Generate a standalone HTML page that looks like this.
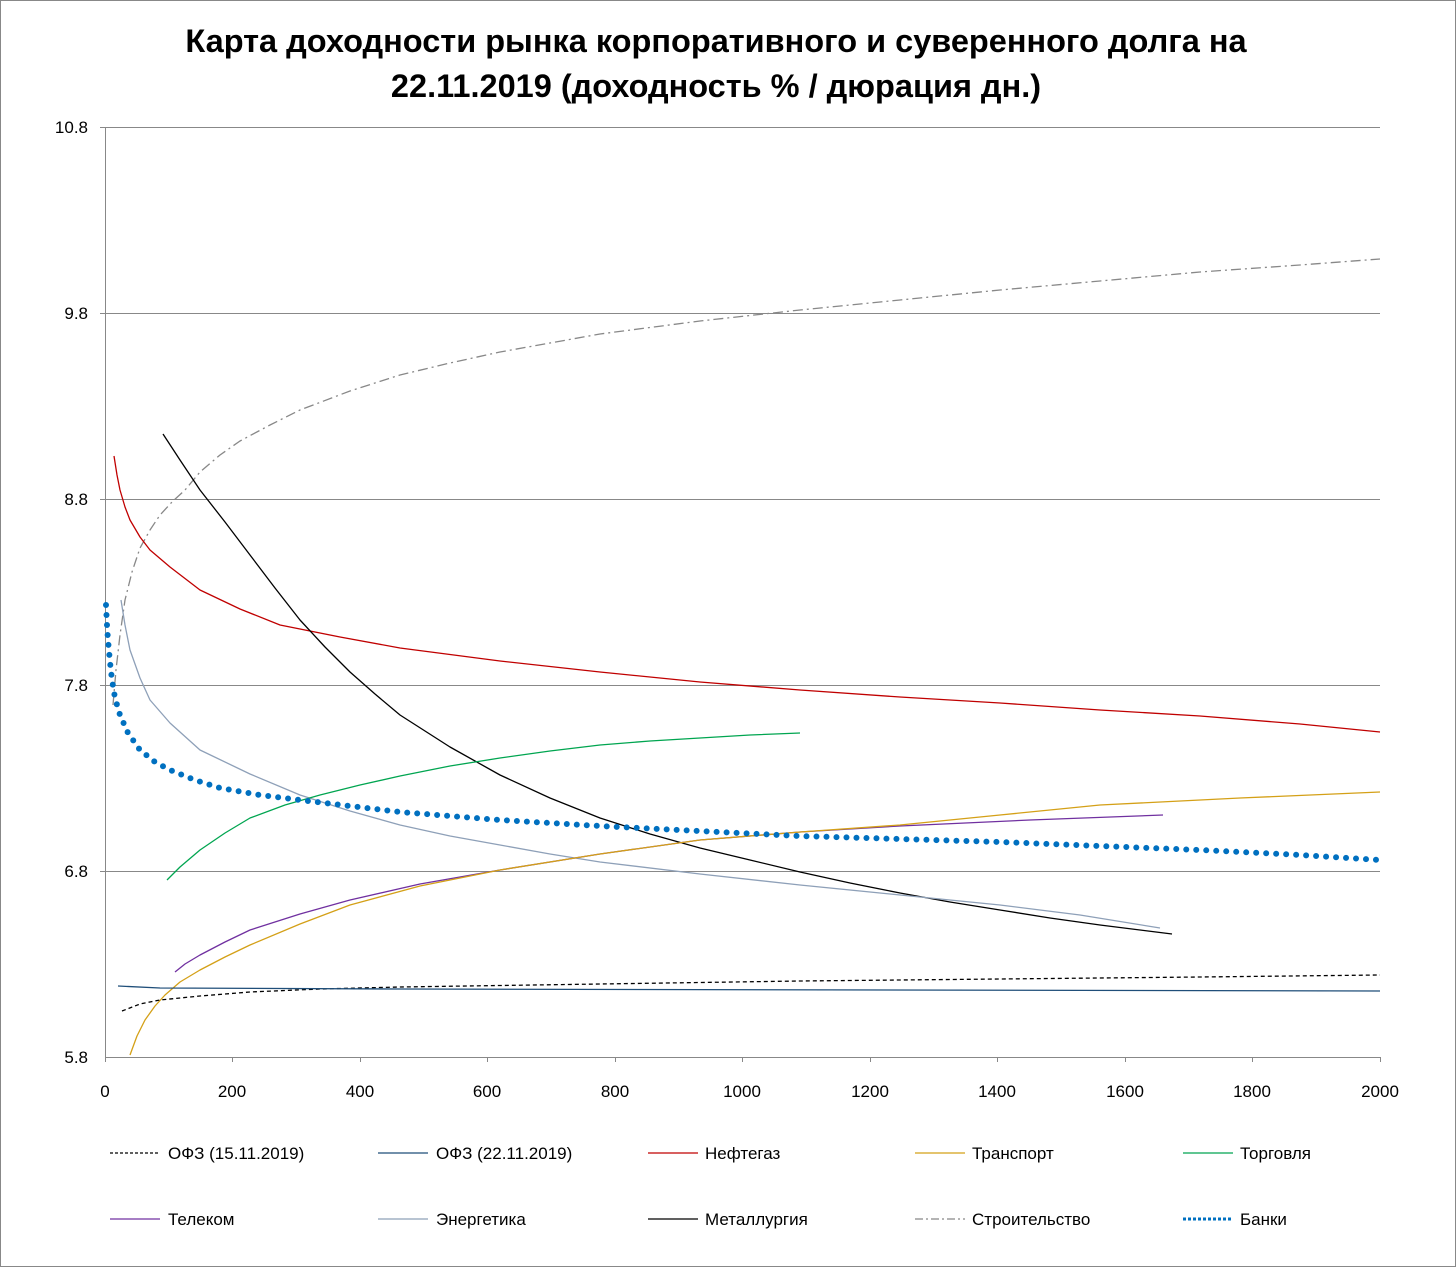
<!DOCTYPE html>
<html><head><meta charset="utf-8"><style>
body{margin:0;background:#fff}
svg{display:block;font-family:"Liberation Sans",sans-serif}
</style></head><body>
<svg width="1456" height="1267" viewBox="0 0 1456 1267">
<rect x="0.5" y="0.5" width="1455" height="1266" fill="#fff" stroke="#888"/>
<text x="716" y="52" text-anchor="middle" font-size="32.5" font-weight="bold">Карта доходности рынка корпоративного и суверенного долга на</text>
<text x="716" y="97" text-anchor="middle" font-size="32.5" font-weight="bold">22.11.2019 (доходность % / дюрация дн.)</text>
<g stroke="#888" stroke-width="1">
<line x1="105" y1="127.5" x2="1380" y2="127.5"/>
<line x1="105" y1="313.5" x2="1380" y2="313.5"/>
<line x1="105" y1="499.5" x2="1380" y2="499.5"/>
<line x1="105" y1="685.5" x2="1380" y2="685.5"/>
<line x1="105" y1="871.5" x2="1380" y2="871.5"/>
<line x1="105" y1="1057.5" x2="1380" y2="1057.5"/>
<line x1="105.5" y1="127" x2="105.5" y2="1062"/>
<line x1="100" y1="127.5" x2="105" y2="127.5"/><line x1="100" y1="313.5" x2="105" y2="313.5"/><line x1="100" y1="499.5" x2="105" y2="499.5"/><line x1="100" y1="685.5" x2="105" y2="685.5"/><line x1="100" y1="871.5" x2="105" y2="871.5"/>
<line x1="232.5" y1="1057" x2="232.5" y2="1062"/><line x1="360.5" y1="1057" x2="360.5" y2="1062"/><line x1="487.5" y1="1057" x2="487.5" y2="1062"/><line x1="615.5" y1="1057" x2="615.5" y2="1062"/><line x1="742.5" y1="1057" x2="742.5" y2="1062"/><line x1="870.5" y1="1057" x2="870.5" y2="1062"/><line x1="997.5" y1="1057" x2="997.5" y2="1062"/><line x1="1125.5" y1="1057" x2="1125.5" y2="1062"/><line x1="1252.5" y1="1057" x2="1252.5" y2="1062"/><line x1="1380.5" y1="1057" x2="1380.5" y2="1062"/>
</g>
<g font-size="17" text-anchor="end">
<text x="88" y="133">10.8</text><text x="88" y="319">9.8</text><text x="88" y="505">8.8</text><text x="88" y="691">7.8</text><text x="88" y="877">6.8</text><text x="88" y="1063">5.8</text>
</g>
<g font-size="17" text-anchor="middle">
<text x="105" y="1097">0</text><text x="232" y="1097">200</text><text x="360" y="1097">400</text><text x="487" y="1097">600</text><text x="615" y="1097">800</text><text x="742" y="1097">1000</text><text x="870" y="1097">1200</text><text x="997" y="1097">1400</text><text x="1125" y="1097">1600</text><text x="1252" y="1097">1800</text><text x="1380" y="1097">2000</text>
</g>
<g fill="none" stroke-width="1.3" stroke-linejoin="round">
<polyline stroke="#888" stroke-dasharray="10,4,2,4" points="113,705 116,670 120,635 125,600 132,572 140,548 150,530 160,515 172,502 185,490 200,472 220,455 240,441 270,425 300,410 350,391 400,375 450,363 500,352 550,343 600,334 700,321 800,310 900,300 1000,290 1100,281 1200,272 1300,265 1380,259"/>
<polyline stroke="#c00000" points="114,456 117,475 120,490 125,507 130,520 140,537 150,550 170,567 200,590 240,609 280,625 340,637 400,648 500,661 600,672 700,682 800,690 900,697 1000,703 1100,710 1200,716 1300,724 1380,732"/>
<polyline stroke="#000" points="163,434 180,460 200,490 225,522 250,555 275,588 300,620 325,647 350,672 375,694 400,715 450,747 500,775 550,798 600,818 650,834 700,848 750,860 800,872 850,883 900,893 950,902 1000,910 1050,918 1100,925 1172,934"/>
<polyline stroke="#8ea0b8" points="121,600 125,625 130,650 140,678 150,700 170,723 200,750 250,774 300,795 350,811 400,825 450,836 500,845 550,854 600,862 700,874 800,885 900,895 1000,905 1080,915 1160,928"/>
<polyline stroke="#00a550" points="167,880 180,867 200,850 225,833 250,818 285,805 320,795 360,785 400,776 450,766 500,758 550,751 600,745 650,741 700,738 750,735 800,733"/>
<polyline stroke="#7030a0" points="175,972 185,964 200,955 225,942 250,930 300,914 350,900 420,884 500,870 600,854 700,840 800,832 900,826 1030,820 1163,815"/>
<polyline stroke="#d4a017" points="130,1055 137,1036 145,1020 155,1006 165,995 180,982 200,970 225,957 250,945 300,924 350,905 420,886 500,870 600,854 700,840 800,832 900,825 1000,815 1100,805 1240,798 1380,792"/>
<polyline stroke="#000" stroke-dasharray="4,3" points="122,1011 140,1004 160,1000 200,996 250,992 320,989 400,987 600,984 800,981 1000,979 1200,977 1380,975"/>
<polyline stroke="#1f4e79" points="118,986 160,988 400,989 1380,991"/>
<polyline stroke="#0070c0" stroke-width="6" stroke-linecap="round" stroke-dasharray="0,10" points="106,605 107,625 108,640 110,662 112,680 115,698 120,715 128,733 140,750 155,762 170,770 195,780 220,788 260,795 300,800 350,806 400,812 450,816 500,820 550,823 600,826 700,831 800,836 900,839 1000,842 1100,846 1200,850 1300,855 1380,860"/>
</g>
<g font-size="17" fill="none" stroke-width="1.3">
<line x1="110" y1="1153" x2="160" y2="1153" stroke="#000" stroke-dasharray="3,2"/>
<line x1="378" y1="1153" x2="428" y2="1153" stroke="#1f4e79"/>
<line x1="648" y1="1153" x2="698" y2="1153" stroke="#c00000"/>
<line x1="915" y1="1153" x2="965" y2="1153" stroke="#d4a017"/>
<line x1="1183" y1="1153" x2="1233" y2="1153" stroke="#00a550"/>
<line x1="110" y1="1219" x2="160" y2="1219" stroke="#7030a0"/>
<line x1="378" y1="1219" x2="428" y2="1219" stroke="#8ea0b8"/>
<line x1="648" y1="1219" x2="698" y2="1219" stroke="#000"/>
<line x1="915" y1="1219" x2="965" y2="1219" stroke="#888" stroke-dasharray="8,3,2,3"/>
<line x1="1183" y1="1219" x2="1233" y2="1219" stroke="#0070c0" stroke-width="3" stroke-dasharray="3,2"/>
</g>
<g font-size="17">
<text x="168" y="1159">ОФЗ (15.11.2019)</text><text x="436" y="1159">ОФЗ (22.11.2019)</text><text x="705" y="1159">Нефтегаз</text><text x="972" y="1159">Транспорт</text><text x="1240" y="1159">Торговля</text>
<text x="168" y="1225">Телеком</text><text x="436" y="1225">Энергетика</text><text x="705" y="1225">Металлургия</text><text x="972" y="1225">Строительство</text><text x="1240" y="1225">Банки</text>
</g>
</svg>
</body></html>
